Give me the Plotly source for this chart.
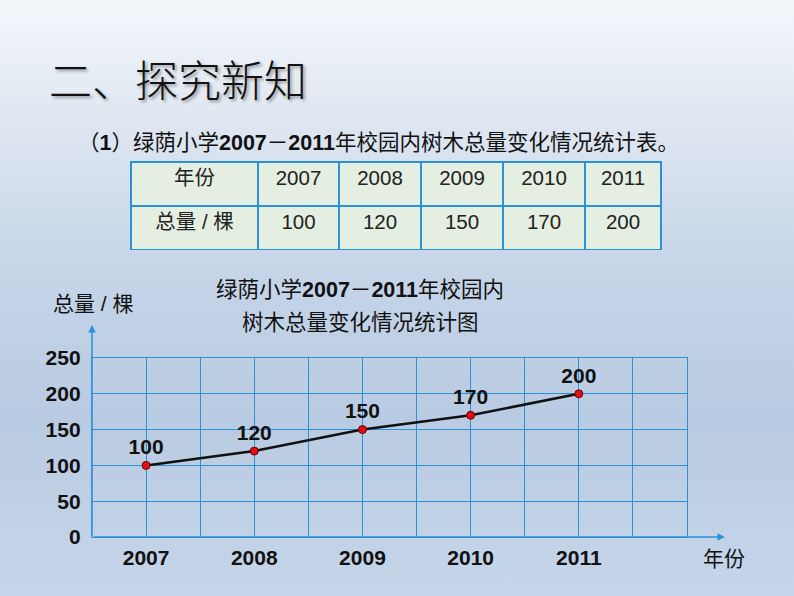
import base64
import plotly.graph_objects as go

# ---- data ----
years = [2007, 2008, 2009, 2010, 2011]
totals = [100, 120, 150, 170, 200]
year_labels = [str(y) for y in years]
y_ticks = [0, 50, 100, 150, 200, 250]
row_head = ["年份", "总量 / 棵"]

W, H = 794, 596
BLUE = "#2a93d8"
FONT = "Arial, 'Liberation Sans', 'Noto Sans CJK SC', sans-serif"


def px(x):
    return x / W


def py(y):
    return 1 - y / H


# background gradient as SVG
svg = f'''<svg xmlns="http://www.w3.org/2000/svg" width="{W}" height="{H}">
<defs><linearGradient id="g" x1="0" y1="0" x2="0" y2="1">
<stop offset="0" stop-color="#f3f7fb"/>
<stop offset="0.2" stop-color="#dfe7f1"/>
<stop offset="0.45" stop-color="#c6d5e8"/>
<stop offset="0.7" stop-color="#b9cbe2"/>
<stop offset="1" stop-color="#c6d5e9"/>
</linearGradient></defs>
<rect width="{W}" height="{H}" fill="url(#g)"/></svg>'''
bg_uri = "data:image/svg+xml;base64," + base64.b64encode(svg.encode()).decode()

fig = go.Figure()

# table
fig.add_trace(go.Table(
    domain=dict(x=[px(131), px(661)], y=[py(250), py(162)]),
    columnwidth=[127, 81, 82, 82, 82, 76],
    header=dict(values=[row_head[0]] + year_labels,
                fill_color="#e4eee1", line=dict(color=BLUE, width=1.5),
                font=dict(family=FONT, size=20.5, color="#222"),
                align="center", height=44),
    cells=dict(values=[[row_head[1]]] + [[v] for v in totals],
               fill_color="#e4eee1", line=dict(color=BLUE, width=1.5),
               font=dict(family=FONT, size=20.5, color="#222"),
               align="center", height=44),
))

# line chart
fig.add_trace(go.Scatter(
    x=years, y=totals, mode="lines+markers+text",
    text=[str(v) for v in totals], textposition="top center",
    textfont=dict(family=FONT, size=21, color="#111", weight="bold"),
    line=dict(color="#111", width=2.5),
    marker=dict(color="#e01010", size=8, line=dict(color="#600", width=1)),
    cliponaxis=False, showlegend=False,
))

fig.update_xaxes(
    domain=[px(92), px(687)], range=[2006.5, 2012],
    tickvals=years, ticktext=year_labels,
    tickfont=dict(family=FONT, size=21, color="#111", weight="bold"),
    ticklabelstandoff=2, automargin=False,
    showgrid=True, gridcolor=BLUE, gridwidth=1.3,
    minor=dict(dtick=0.5, tick0=2006.5, showgrid=True, gridcolor=BLUE, gridwidth=1.3),
    showline=True, mirror=True, linecolor=BLUE, linewidth=1.3,
    zeroline=False, fixedrange=True,
)
fig.update_yaxes(
    domain=[py(537), py(358)], range=[0, 250],
    tickvals=y_ticks,
    tickfont=dict(family=FONT, size=21, color="#111", weight="bold"),
    ticklabelstandoff=6, automargin=False,
    showgrid=True, gridcolor=BLUE, gridwidth=1.3,
    showline=True, mirror=True, linecolor=BLUE, linewidth=1.3,
    zeroline=False, fixedrange=True,
)

annotations = [
    # axis arrows
    dict(x=2006.5, y=296, ax=2006.5, ay=0, xref="x", yref="y", axref="x", ayref="y",
         text="", showarrow=True, arrowhead=2, arrowsize=1, arrowwidth=1.5,
         arrowcolor=BLUE, standoff=0, startstandoff=0),
    dict(x=2012.35, y=0, ax=2006.5, ay=0, xref="x", yref="y", axref="x", ayref="y",
         text="", showarrow=True, arrowhead=2, arrowsize=1, arrowwidth=1.5,
         arrowcolor=BLUE, standoff=0, startstandoff=0),
    # main title
    dict(x=px(47), y=py(78), xref="paper", yref="paper", xanchor="left", yanchor="middle",
         text="二、探究新知", showarrow=False,
         font=dict(family="'Noto Sans CJK SC', sans-serif", size=43, color="#111", weight=300,
                   shadow="2px 2px 3px rgba(80,80,80,0.55)")),
    # subtitle
    dict(x=px(76), y=py(143), xref="paper", yref="paper", xanchor="left", yanchor="middle",
         text="（<b>1</b>）绿荫小学<b>2007</b>－<b>2011</b>年校园内树木总量变化情况统计表。",
         showarrow=False, font=dict(family=FONT, size=21.5, color="#111")),
    # chart title
    dict(x=px(360), y=py(290), xref="paper", yref="paper", xanchor="center", yanchor="middle",
         text="绿荫小学<b>2007</b>－<b>2011</b>年校园内", showarrow=False,
         font=dict(family=FONT, size=21.5, color="#111")),
    dict(x=px(360), y=py(323), xref="paper", yref="paper", xanchor="center", yanchor="middle",
         text="树木总量变化情况统计图", showarrow=False,
         font=dict(family=FONT, size=21.5, color="#111")),
    # axis titles
    dict(x=px(93), y=py(303), xref="paper", yref="paper", xanchor="center", yanchor="middle",
         text="总量 / 棵", showarrow=False, font=dict(family=FONT, size=21, color="#111")),
    dict(x=px(724), y=py(558), xref="paper", yref="paper", xanchor="center", yanchor="middle",
         text="年份", showarrow=False, font=dict(family=FONT, size=21, color="#111")),
]

fig.update_layout(
    width=W, height=H, margin=dict(l=0, r=0, t=0, b=0, autoexpand=False),
    paper_bgcolor="#c6d5e8", plot_bgcolor="rgba(0,0,0,0)",
    showlegend=False, annotations=annotations,
    images=[dict(source=bg_uri, xref="paper", yref="paper", x=0, y=1, sizex=1, sizey=1,
                 sizing="stretch", layer="below", xanchor="left", yanchor="top")],
)

fig.write_html("out.html", config={"displayModeBar": False})
